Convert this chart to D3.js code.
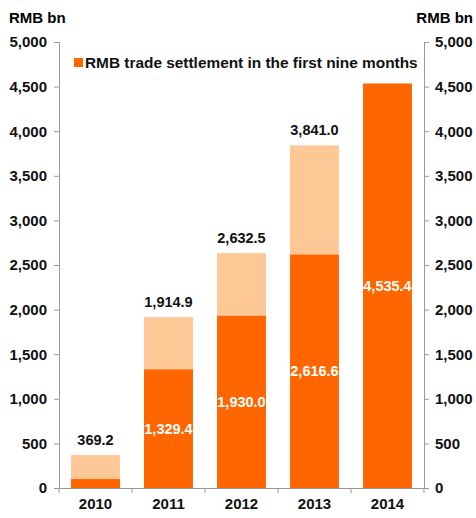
<!DOCTYPE html>
<html>
<head>
<meta charset="utf-8">
<script src="https://cdn.jsdelivr.net/npm/d3@7"></script>
<style>
  body { margin: 0; background: #fff; }
  svg text { font-family: "Liberation Sans", Arial, sans-serif; font-weight: bold; }
  .axis path, .axis line { stroke: #999; }
  .axis text { font-size: 15px; fill: #111; }
</style>
</head>
<body>
<div id="chart"></div>
<script>
// data
const years = ["2010", "2011", "2012", "2013", "2014"];
const nineMonths = [100, 1329.4, 1930.0, 2616.6, 4535.4];
const fullYear = [369.2, 1914.9, 2632.5, 3841.0, null];
const yTicks = [0, 500, 1000, 1500, 2000, 2500, 3000, 3500, 4000, 4500, 5000];

const W = 476, H = 518;
const margin = { top: 42, right: 52, bottom: 30, left: 59 };
const width = W - margin.left - margin.right;
const height = H - margin.top - margin.bottom;

const svg = d3.select('#chart').append('svg')
    .attr('width', W)
    .attr('height', H);

const chart = svg.append('g')
    .attr('transform', `translate(${margin.left}, ${margin.top})`);

const x = d3.scaleBand()
    .domain(years)
    .range([0, width])
    .paddingInner(0.33)
    .paddingOuter(0.165);

const y = d3.scaleLinear()
    .domain([0, 5000])
    .range([height, 0]);

const fmt = d3.format(',.1f');

// full-year bars (light)
chart.selectAll('.full')
    .data(years.map((d, i) => ({ year: d, v: fullYear[i] })).filter(d => d.v != null))
    .enter().append('rect')
    .attr('x', d => x(d.year))
    .attr('y', d => y(d.v))
    .attr('width', x.bandwidth())
    .attr('height', d => height - y(d.v))
    .attr('fill', '#fdc896');

// first nine months (dark)
chart.selectAll('.nine')
    .data(years.map((d, i) => ({ year: d, v: nineMonths[i] })))
    .enter().append('rect')
    .attr('x', d => x(d.year))
    .attr('y', d => y(d.v))
    .attr('width', x.bandwidth())
    .attr('height', d => height - y(d.v))
    .attr('fill', '#ff6600');

// axes
const gx = chart.append('g')
    .attr('class', 'axis')
    .attr('transform', `translate(0, ${height})`)
    .call(d3.axisBottom(x).tickSize(0).tickSizeOuter(0).tickPadding(10));
// tick marks at band edges
gx.selectAll('.edge')
    .data(d3.range(years.length + 1))
    .enter().append('line')
    .attr('x1', i => i * x.step())
    .attr('x2', i => i * x.step())
    .attr('y1', 0)
    .attr('y2', 5)
    .attr('stroke', '#999');

const fmtTick = d3.format(',');
chart.append('g')
    .attr('class', 'axis')
    .call(d3.axisLeft(y).tickValues(yTicks).tickFormat(fmtTick).tickSize(5).tickSizeOuter(5).tickPadding(7));

chart.append('g')
    .attr('class', 'axis')
    .attr('transform', `translate(${width}, 0)`)
    .call(d3.axisRight(y).tickValues(yTicks).tickFormat(fmtTick).tickSize(5).tickSizeOuter(5).tickPadding(6));

// labels: totals above
chart.selectAll('.total')
    .data(years.map((d, i) => ({ year: d, v: fullYear[i] })).filter(d => d.v != null))
    .enter().append('text')
    .attr('x', d => x(d.year) + x.bandwidth() / 2)
    .attr('y', d => y(d.v) - 10)
    .attr('text-anchor', 'middle')
    .style('font-size', '14.5px')
    .attr('fill', '#111')
    .text(d => fmt(d.v));

// labels: nine months inside
chart.selectAll('.inner')
    .data(years.map((d, i) => ({ year: d, v: nineMonths[i] })).filter(d => d.v > 500))
    .enter().append('text')
    .attr('x', d => x(d.year) + x.bandwidth() / 2)
    .attr('y', d => (y(d.v) + height) / 2 + 1)
    .attr('text-anchor', 'middle')
    .attr('dominant-baseline', 'middle')
    .style('font-size', '14.5px')
    .attr('fill', '#fff')
    .text(d => fmt(d.v));

// unit labels
svg.append('text')
    .attr('x', 9).attr('y', 23)
    .style('font-size', '15px')
    .text('RMB bn');
svg.append('text')
    .attr('x', 473).attr('y', 23)
    .attr('text-anchor', 'end')
    .style('font-size', '15px')
    .text('RMB bn');

// legend
svg.append('rect')
    .attr('x', 74).attr('y', 58)
    .attr('width', 9).attr('height', 9)
    .attr('fill', '#ff6600');
svg.append('text')
    .attr('x', 85).attr('y', 68)
    .style('font-size', '15.4px')
    .attr('fill', '#111')
    .text('RMB trade settlement in the first nine months');
</script>
</body>
</html>
